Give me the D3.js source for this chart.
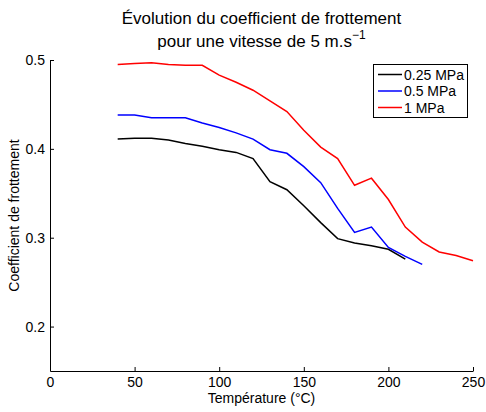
<!DOCTYPE html>
<html><head><meta charset="utf-8">
<script src="https://cdn.jsdelivr.net/npm/d3@7"></script>
<style>body{margin:0;background:#fff}svg{display:block}text{font-family:"Liberation Sans",Arial,sans-serif}</style>
</head><body><svg id="c" width="486" height="412"></svg>
<script>
const temps = [40,50,60,70,80,90,100,110,120,130,140,150,160,170,180,190,200,210,220,230,240,250];
const seriesNames = ["0.25 MPa","0.5 MPa","1 MPa"];
const seriesColors = ["#000000","#0000ff","#ff0000"];
const v025 = [0.411,0.412,0.412,0.410,0.406,0.403,0.399,0.396,0.389,0.363,0.354,0.336,0.317,0.299,0.294,0.291,0.287,0.276];
const v05 = [0.438,0.438,0.435,0.435,0.435,0.429,0.424,0.418,0.411,0.399,0.395,0.380,0.362,0.333,0.306,0.312,0.289,0.279,0.270];
const v1 = [0.495,0.496,0.497,0.495,0.494,0.494,0.483,0.475,0.466,0.454,0.442,0.421,0.402,0.389,0.359,0.367,0.343,0.312,0.295,0.284,0.280,0.274];
const xTicks = [0,50,100,150,200,250];
const yTicks = [0.2,0.3,0.4,0.5];
const title1 = "Évolution du coefficient de frottement";
const title2 = "pour une vitesse de 5 m.s";
const xLabel = "Température (°C)";
const yLabel = "Coefficient de frottement";

const svg = d3.select("#c");
const L=50,R=473,T=60,B=371;
const x = d3.scaleLinear().domain([0,250]).range([L,R]);
const y = d3.scaleLinear().domain([0.15,0.5]).range([B,T]);

const xa = svg.append("g").attr("transform",`translate(0,${B})`)
  .call(d3.axisBottom(x).tickValues(xTicks).tickFormat(d3.format("d")).tickSizeInner(-4).tickSizeOuter(0).tickPadding(6));
const ya = svg.append("g").attr("transform",`translate(${L},0)`)
  .call(d3.axisLeft(y).tickValues(yTicks).tickFormat(d3.format(".1f")).tickSizeInner(-4).tickSizeOuter(0).tickPadding(5));
[xa,ya].forEach(g=>{
  g.select(".domain").attr("stroke","#000").attr("stroke-width",1);
  g.selectAll(".tick line").attr("stroke","#000");
  g.selectAll("text").attr("font-size",14).attr("fill","#000").style("font-family","Liberation Sans, Arial, sans-serif");
});

const all=[v025,v05,v1];
const line=d3.line().x((d,i)=>x(temps[i])).y(d=>y(d));
all.forEach((vals,k)=>{
  svg.append("path").datum(vals).attr("d",line).attr("fill","none")
    .attr("stroke",seriesColors[k]).attr("stroke-width",1.5).attr("stroke-linejoin","miter");
});

const cx=(L+R)/2;
svg.append("text").attr("x",cx).attr("y",24).attr("text-anchor","middle").attr("font-size",17).text(title1);
const t2=svg.append("text").attr("x",cx).attr("y",47).attr("text-anchor","middle").attr("font-size",17);
t2.append("tspan").text(title2);
t2.append("tspan").attr("dy",-8).attr("font-size",12).text("−1");

svg.append("text").attr("x",cx).attr("y",403).attr("text-anchor","middle").attr("font-size",14).text(xLabel);
svg.append("text").attr("transform",`translate(19,${(T+B)/2}) rotate(-90)`).attr("text-anchor","middle").attr("font-size",14).text(yLabel);

const lg=svg.append("g");
lg.append("rect").attr("x",373.5).attr("y",64.5).attr("width",94).attr("height",53).attr("fill","#fff").attr("stroke","#000");
seriesNames.forEach((n,k)=>{
  const yy=74.5+k*16.5;
  lg.append("line").attr("x1",378).attr("x2",402).attr("y1",yy).attr("y2",yy).attr("stroke",seriesColors[k]).attr("stroke-width",1.5);
  lg.append("text").attr("x",404).attr("y",yy+5).attr("font-size",14).text(n);
});
</script></body></html>
